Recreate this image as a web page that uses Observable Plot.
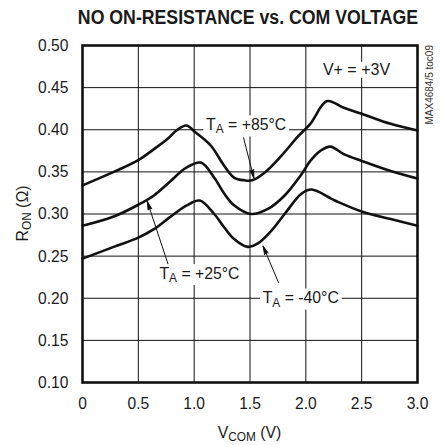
<!DOCTYPE html>
<html><head><meta charset="utf-8">
<script src="https://cdn.jsdelivr.net/npm/d3@7"></script>
<script src="https://cdn.jsdelivr.net/npm/@observablehq/plot@0.6"></script>
<style>
body{margin:0;background:#fff;font-family:"Liberation Sans",Arial,sans-serif;}
#title{height:30px;width:443px;position:relative;overflow:visible;}
#title span{position:absolute;left:248px;top:17px;transform:translate(-50%,-50%) scaleX(0.885);white-space:nowrap;font-weight:bold;font-size:20px;color:#1a1a1a;}
#chart svg{display:block;}
</style></head><body>
<div id="title"><span>NO ON-RESISTANCE vs. COM VOLTAGE</span></div>
<div id="chart"></div>
<script>
// ---- data ----
const seriesNames = ["+85°C", "+25°C", "-40°C"];
const vcom85 = [0, 0.28, 0.5, 0.64, 0.76, 0.85, 0.93, 1.01, 1.15, 1.27, 1.36, 1.45, 1.52, 1.63, 1.78, 1.93, 2.04, 2.19, 2.34, 2.5, 2.76, 3.0];
const ron85  = [0.334, 0.350, 0.364, 0.377, 0.389, 0.400, 0.405, 0.397, 0.381, 0.357, 0.343, 0.340, 0.340, 0.349, 0.369, 0.392, 0.407, 0.434, 0.426, 0.419, 0.407, 0.399];
const vcom25 = [0, 0.28, 0.5, 0.64, 0.78, 0.93, 1.06, 1.18, 1.27, 1.36, 1.51, 1.66, 1.81, 1.96, 2.04, 2.13, 2.22, 2.34, 2.5, 2.76, 3.0];
const ron25  = [0.286, 0.297, 0.311, 0.322, 0.338, 0.355, 0.361, 0.343, 0.324, 0.310, 0.300, 0.306, 0.322, 0.347, 0.363, 0.375, 0.380, 0.371, 0.363, 0.351, 0.342];
const vcomM40 = [0, 0.28, 0.5, 0.64, 0.78, 0.93, 1.05, 1.18, 1.27, 1.36, 1.48, 1.57, 1.69, 1.81, 1.96, 2.05, 2.26, 2.5, 2.76, 3.0];
const ronM40  = [0.247, 0.261, 0.272, 0.282, 0.296, 0.310, 0.316, 0.300, 0.284, 0.270, 0.261, 0.265, 0.280, 0.300, 0.324, 0.329, 0.316, 0.303, 0.294, 0.286];

const xTicks = [0, 0.5, 1, 1.5, 2, 2.5, 3];
const xTickLabels = ["0", "0.5", "1.0", "1.5", "2.0", "2.5", "3.0"];
const yTicks = [0.10, 0.15, 0.20, 0.25, 0.30, 0.35, 0.40, 0.45, 0.50];
const yTickLabels = ["0.10", "0.15", "0.20", "0.25", "0.30", "0.35", "0.40", "0.45", "0.50"];

// annotation label anchors (data coords) and arrows
const labelV = [1.47, 1.052, 1.959];
const labelR = [0.4065, 0.230, 0.2009];
const arrowV1 = [1.442, 0.770, 1.755];
const arrowR1 = [0.3905, 0.239, 0.2187];
const arrowV2 = [1.535, 0.580, 1.617];
const arrowR2 = [0.3425, 0.315, 0.262];
const supplyLabel = "V+ = +3V";
const supplyV = 2.458, supplyR = 0.4715;
const docId = "MAX4684/5 toc09";

// ---- build ----
const rows = [];
[[vcom85, ron85], [vcom25, ron25], [vcomM40, ronM40]].forEach(([vs, rs], k) => {
  vs.forEach((v, i) => rows.push({v, r: rs[i], series: seriesNames[k]}));
});
const arrows = seriesNames.map((s, i) => ({s, x1: arrowV1[i], y1: arrowR1[i], x2: arrowV2[i], y2: arrowR2[i]}));

const W = 443, H = 415;
const chart = Plot.plot({
  width: W, height: H,
  marginTop: 15, marginLeft: 82, marginRight: 26, marginBottom: 63,
  style: {fontFamily: "'Liberation Sans', Arial, sans-serif", color: "#1a1a1a", background: "#fff"},
  x: {domain: [0, 3]},
  y: {domain: [0.1, 0.5]},
  marks: [
    Plot.gridX(xTicks, {stroke: "#111", strokeOpacity: 1, strokeWidth: 1}),
    Plot.gridY(yTicks, {stroke: "#111", strokeOpacity: 1, strokeWidth: 1}),
    Plot.line(rows, {x: "v", y: "r", z: "series", curve: "catmull-rom", stroke: "#111", strokeWidth: 2.6}),
    Plot.arrow(arrows, {x1: "x1", y1: "y1", x2: "x2", y2: "y2", stroke: "#111", fill: "#111", strokeWidth: 1, headLength: 13, headAngle: 26}),
    Plot.frame({stroke: "#111", strokeWidth: 2.6}),
    Plot.axisX(xTicks, {tickFormat: d => xTickLabels[xTicks.indexOf(d)], tickSize: 0, tickPadding: 14, fontSize: 17, label: null}),
    Plot.axisY(yTicks, {tickFormat: d => yTickLabels[yTicks.indexOf(d)], tickSize: 0, tickPadding: 14, fontSize: 17, label: null})
  ]
});
document.getElementById("chart").appendChild(chart);

const svg = d3.select(chart);
// condense tick labels slightly
svg.selectAll("g[aria-label$='tick label'] text").each(function() {
  const t = this.getAttribute("transform");
  if (t) this.setAttribute("transform", t + " scale(0.92,1)");
});

const xs = chart.scale("x"), ys = chart.scale("y");
function richText(px, py, parts, size, sx, boxed) {
  const grp = svg.append("g").attr("transform", `translate(${px},${py}) scale(${sx},1)`);
  const g = grp.append("text")
    .attr("text-anchor", "middle")
    .attr("font-size", size)
    .attr("fill", "#1a1a1a")
    .attr("font-family", "'Liberation Sans', Arial, sans-serif");
  let shifted = false;
  parts.forEach(p => {
    const ts = g.append("tspan").text(p.t);
    if (p.sub) { ts.attr("font-size", size * 0.75).attr("dy", size * 0.2); shifted = true; }
    else if (shifted) { ts.attr("dy", -size * 0.2); shifted = false; }
  });
  if (boxed) {
    const b = g.node().getBBox();
    grp.insert("rect", "text")
      .attr("x", b.x - 3).attr("y", b.y + 1).attr("width", b.width + 6).attr("height", b.height - 1)
      .attr("fill", "#fff");
  }
  return grp;
}
const cap = 17 * 0.36;
seriesNames.forEach((s, i) => {
  richText(xs.apply(labelV[i]), ys.apply(labelR[i]) + cap, [{t: "T"}, {t: "A", sub: true}, {t: " = " + s}], 17, 0.93, true);
});
richText(xs.apply(supplyV), ys.apply(supplyR) + 16 * 0.36, [{t: supplyLabel}], 16, 1, true);

// axis titles
const plotMidX = (xs.apply(0) + xs.apply(3)) / 2;
const plotMidY = (ys.apply(0.1) + ys.apply(0.5)) / 2;
richText(plotMidX, H - 7, [{t: "V"}, {t: "COM", sub: true}, {t: " (V)"}], 17, 0.93, false);
const yl = svg.append("text")
  .attr("transform", `translate(28,${plotMidY}) rotate(-90) scale(0.93,1)`)
  .attr("text-anchor", "middle").attr("font-size", 17).attr("fill", "#1a1a1a")
  .attr("font-family", "'Liberation Sans', Arial, sans-serif");
yl.append("tspan").text("R");
yl.append("tspan").text("ON").attr("font-size", 12.75).attr("dy", 3.4);
yl.append("tspan").text(" (Ω)").attr("dy", -3.4);

// document id, rotated along the right edge
svg.append("text")
  .attr("transform", `translate(${xs.apply(3) + 16},${ys.apply(0.5)}) rotate(-90)`)
  .attr("text-anchor", "end").attr("font-size", 10).attr("fill", "#333")
  .attr("font-family", "'Liberation Sans', Arial, sans-serif")
  .text(docId);
</script>
</body></html>
